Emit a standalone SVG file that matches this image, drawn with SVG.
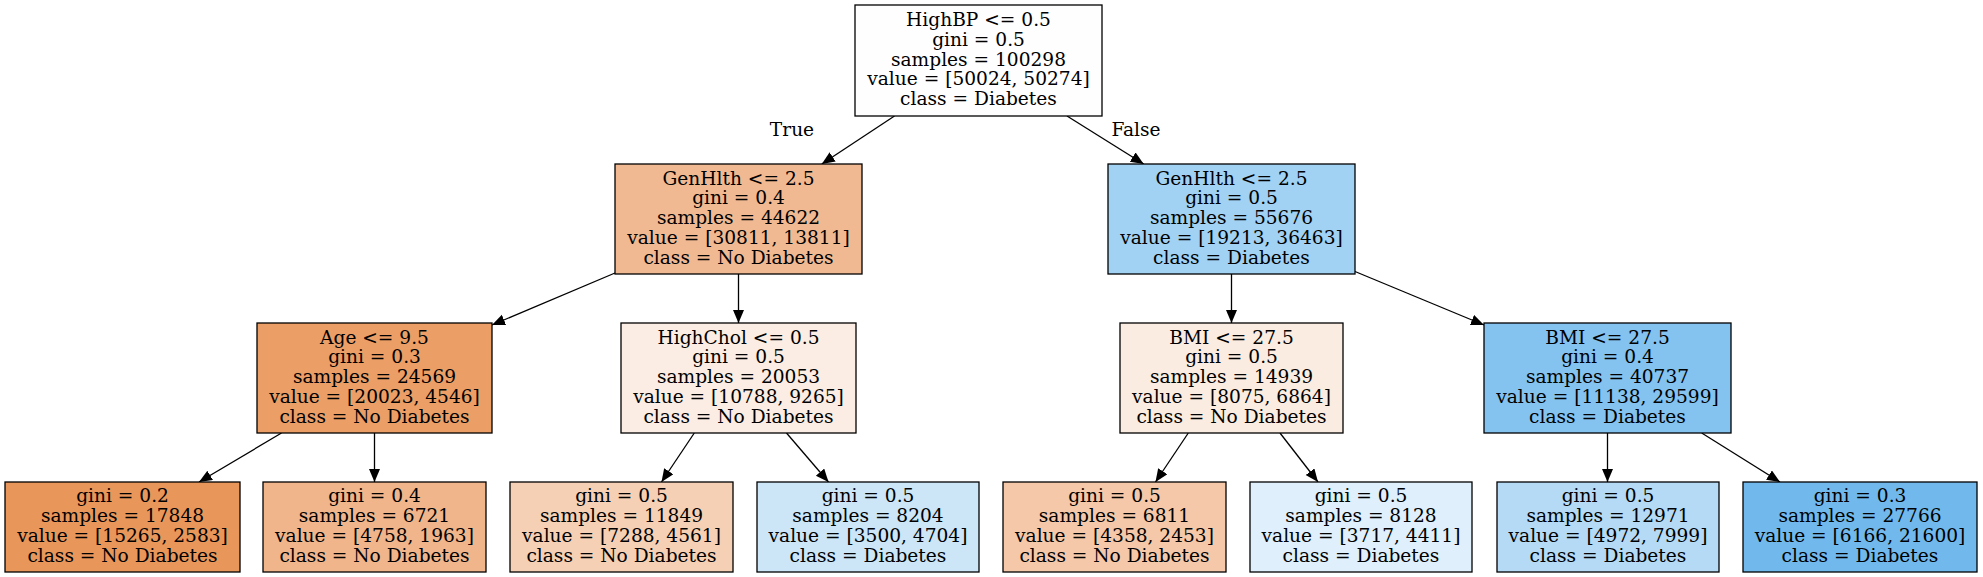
<svg xmlns="http://www.w3.org/2000/svg" width="1983" height="577" viewBox="0 0 1983 577">
<style>
.n{stroke:#000;stroke-width:1.3}
text{font-family:"DejaVu Serif","Liberation Serif",serif;font-size:18.6px;fill:#000;text-anchor:middle}
.e{stroke:#000;stroke-width:1.3;fill:none;marker-end:url(#ah)}
</style>
<defs>
<marker id="ah" markerUnits="userSpaceOnUse" markerWidth="14" markerHeight="12" refX="13" refY="5.5" orient="auto" viewBox="0 0 14 12">
<path d="M0,0 L13,5.5 L0,11 z" fill="#000"/>
</marker>
</defs>
<rect width="1983" height="577" fill="#fff"/>
<g id="connectors">
<line class="e" x1="894.5" y1="116" x2="821.8" y2="164"/>
<line class="e" x1="1067" y1="116" x2="1143.7" y2="164"/>
<line class="e" x1="615" y1="273" x2="492" y2="325"/>
<line class="e" x1="738.5" y1="274" x2="738.5" y2="323"/>
<line class="e" x1="1231.5" y1="274" x2="1231.5" y2="323"/>
<line class="e" x1="1355" y1="271.5" x2="1484" y2="325"/>
<line class="e" x1="281.5" y1="433" x2="199" y2="482"/>
<line class="e" x1="374.5" y1="433" x2="374.5" y2="482"/>
<line class="e" x1="694.3" y1="433" x2="661.5" y2="482"/>
<line class="e" x1="786.5" y1="433" x2="828.5" y2="482"/>
<line class="e" x1="1188.3" y1="433" x2="1155.5" y2="482"/>
<line class="e" x1="1280" y1="433" x2="1318" y2="482"/>
<line class="e" x1="1607.5" y1="433" x2="1607.5" y2="482"/>
<line class="e" x1="1701.7" y1="433" x2="1780" y2="482"/>
<text x="792" y="136">True</text>
<text x="1136" y="136">False</text>
</g>
<g id="node0">
<rect class="n" x="855" y="5" width="247" height="111" fill="#fefeff"/>
<text x="978.5" y="26">HighBP &lt;= 0.5</text>
<text x="978.5" y="45.75">gini = 0.5</text>
<text x="978.5" y="65.5">samples = 100298</text>
<text x="978.5" y="85.25">value = [50024, 50274]</text>
<text x="978.5" y="105">class = Diabetes</text>
</g>
<g id="node1">
<rect class="n" x="615" y="164" width="247" height="110" fill="#f1b992"/>
<text x="738.5" y="184.5">GenHlth &lt;= 2.5</text>
<text x="738.5" y="204.25">gini = 0.4</text>
<text x="738.5" y="224">samples = 44622</text>
<text x="738.5" y="243.75">value = [30811, 13811]</text>
<text x="738.5" y="263.5">class = No Diabetes</text>
</g>
<g id="node8">
<rect class="n" x="1108" y="164" width="247" height="110" fill="#a1d1f3"/>
<text x="1231.5" y="184.5">GenHlth &lt;= 2.5</text>
<text x="1231.5" y="204.25">gini = 0.5</text>
<text x="1231.5" y="224">samples = 55676</text>
<text x="1231.5" y="243.75">value = [19213, 36463]</text>
<text x="1231.5" y="263.5">class = Diabetes</text>
</g>
<g id="node2">
<rect class="n" x="257" y="323" width="235" height="110" fill="#eb9e66"/>
<text x="374.5" y="343.5">Age &lt;= 9.5</text>
<text x="374.5" y="363.25">gini = 0.3</text>
<text x="374.5" y="383">samples = 24569</text>
<text x="374.5" y="402.75">value = [20023, 4546]</text>
<text x="374.5" y="422.5">class = No Diabetes</text>
</g>
<g id="node5">
<rect class="n" x="621" y="323" width="235" height="110" fill="#fbede3"/>
<text x="738.5" y="343.5">HighChol &lt;= 0.5</text>
<text x="738.5" y="363.25">gini = 0.5</text>
<text x="738.5" y="383">samples = 20053</text>
<text x="738.5" y="402.75">value = [10788, 9265]</text>
<text x="738.5" y="422.5">class = No Diabetes</text>
</g>
<g id="node9">
<rect class="n" x="1120" y="323" width="223" height="110" fill="#fbece1"/>
<text x="1231.5" y="343.5">BMI &lt;= 27.5</text>
<text x="1231.5" y="363.25">gini = 0.5</text>
<text x="1231.5" y="383">samples = 14939</text>
<text x="1231.5" y="402.75">value = [8075, 6864]</text>
<text x="1231.5" y="422.5">class = No Diabetes</text>
</g>
<g id="node12">
<rect class="n" x="1484" y="323" width="247" height="110" fill="#84c2ef"/>
<text x="1607.5" y="343.5">BMI &lt;= 27.5</text>
<text x="1607.5" y="363.25">gini = 0.4</text>
<text x="1607.5" y="383">samples = 40737</text>
<text x="1607.5" y="402.75">value = [11138, 29599]</text>
<text x="1607.5" y="422.5">class = Diabetes</text>
</g>
<g id="node3">
<rect class="n" x="5" y="482" width="235" height="90" fill="#e9965a"/>
<text x="122.5" y="502.4">gini = 0.2</text>
<text x="122.5" y="522.1">samples = 17848</text>
<text x="122.5" y="541.9">value = [15265, 2583]</text>
<text x="122.5" y="561.6">class = No Diabetes</text>
</g>
<g id="node4">
<rect class="n" x="263" y="482" width="223" height="90" fill="#f0b58b"/>
<text x="374.5" y="502.4">gini = 0.4</text>
<text x="374.5" y="522.1">samples = 6721</text>
<text x="374.5" y="541.9">value = [4758, 1963]</text>
<text x="374.5" y="561.6">class = No Diabetes</text>
</g>
<g id="node6">
<rect class="n" x="510" y="482" width="223" height="90" fill="#f5d0b5"/>
<text x="621.5" y="502.4">gini = 0.5</text>
<text x="621.5" y="522.1">samples = 11849</text>
<text x="621.5" y="541.9">value = [7288, 4561]</text>
<text x="621.5" y="561.6">class = No Diabetes</text>
</g>
<g id="node7">
<rect class="n" x="757" y="482" width="222" height="90" fill="#cce6f8"/>
<text x="868" y="502.4">gini = 0.5</text>
<text x="868" y="522.1">samples = 8204</text>
<text x="868" y="541.9">value = [3500, 4704]</text>
<text x="868" y="561.6">class = Diabetes</text>
</g>
<g id="node10">
<rect class="n" x="1003" y="482" width="223" height="90" fill="#f4c8a8"/>
<text x="1114.5" y="502.4">gini = 0.5</text>
<text x="1114.5" y="522.1">samples = 6811</text>
<text x="1114.5" y="541.9">value = [4358, 2453]</text>
<text x="1114.5" y="561.6">class = No Diabetes</text>
</g>
<g id="node11">
<rect class="n" x="1250" y="482" width="222" height="90" fill="#dfeffb"/>
<text x="1361" y="502.4">gini = 0.5</text>
<text x="1361" y="522.1">samples = 8128</text>
<text x="1361" y="541.9">value = [3717, 4411]</text>
<text x="1361" y="561.6">class = Diabetes</text>
</g>
<g id="node13">
<rect class="n" x="1497" y="482" width="222" height="90" fill="#b4daf5"/>
<text x="1608" y="502.4">gini = 0.5</text>
<text x="1608" y="522.1">samples = 12971</text>
<text x="1608" y="541.9">value = [4972, 7999]</text>
<text x="1608" y="561.6">class = Diabetes</text>
</g>
<g id="node14">
<rect class="n" x="1743" y="482" width="234" height="90" fill="#71b9ec"/>
<text x="1860" y="502.4">gini = 0.3</text>
<text x="1860" y="522.1">samples = 27766</text>
<text x="1860" y="541.9">value = [6166, 21600]</text>
<text x="1860" y="561.6">class = Diabetes</text>
</g>
</svg>
